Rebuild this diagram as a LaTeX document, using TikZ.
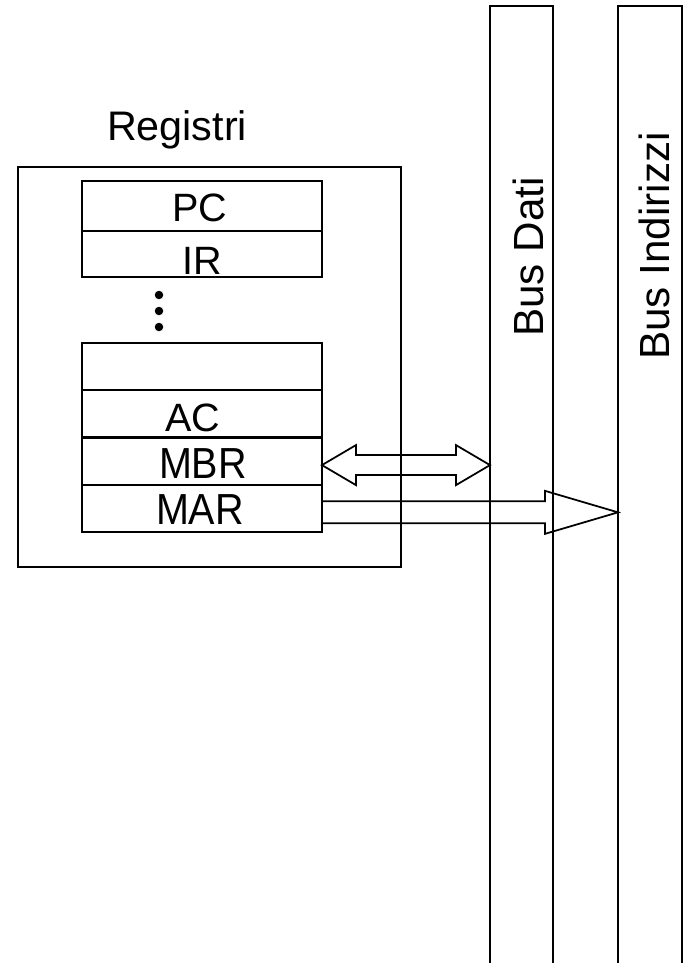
\documentclass[tikz,border=0pt]{standalone}
\usepackage{fontspec}
\setmainfont{Liberation Sans}
\usetikzlibrary{positioning, calc}

\begin{document}
\begin{tikzpicture}[
    x=0.02cm, y=-0.02cm,
    node distance=0cm,
    frame/.style={rectangle, draw, line width=1.2pt, outer sep=0pt, inner sep=0pt, minimum width=7.66cm, minimum height=8cm},
    reg/.style={rectangle, draw, line width=1.2pt, outer sep=0pt, inner sep=0pt, minimum width=4.8cm, minimum height=0.945cm},
    regtext/.style={font=\fontsize{22.5}{22}\selectfont, anchor=base, inner sep=0pt},
    dot/.style={circle, fill, inner sep=0pt, minimum size=0.17cm},
    bus/.style={rectangle, draw, line width=1pt, outer sep=0pt, inner sep=0pt, minimum width=1.26cm, minimum height=19.6cm, anchor=north west},
    bustext/.style={font=\fontsize{24}{24}\selectfont, rotate=90, inner sep=0pt},
    blockarrow/.style={draw, line width=1pt, line join=miter}
]
\useasboundingbox (0,0) rectangle (686,963);

% Register file
\node[font=\fontsize{23.5}{24}\selectfont, anchor=base, inner sep=0pt] (title) at (177,140) {Registri};
\node[frame, anchor=north west] (regs) at (18,167) {};

% Top registers
\node[reg, minimum height=1cm, anchor=north west] (pc) at (82,181) {};
\node[reg, minimum height=0.92cm, below=of pc] (ir) {};
\node[regtext] (pclbl) at ($(pc.south)+(-2,-9)$) {PC};
\node[regtext] (irlbl) at ($(ir.south)+(0,-2)$) {IR};

% Dots
\foreach \i/\yy in {1/295, 2/311, 3/327}
    \node[dot] (dot\i) at (159,\yy) {};

% Bottom registers
\node[reg, anchor=north west] (blank) at (82,343) {};
\node[reg, below=of blank] (ac) {};
\node[reg, below=of ac] (mbr) {};
\node[reg, below=of mbr] (mar) {};
\node[regtext] (aclbl) at ($(ac.south)+(-9,-6)$) {AC};
\node[regtext, yscale=1.1] (mbrlbl) at ($(mbr.south)+(1,-6)$) {MBR};
\node[regtext, yscale=1.1] (marlbl) at ($(mar.south)+(-2,-7)$) {MAR};

% Buses
\node[bus] (dati) at (490,6) {};
\node[bus, minimum width=1.28cm] (indirizzi) at (618,6) {};
\node[bustext] (datilbl) at (528,257) {Bus Dati};
\node[bustext] (indirizzilbl) at (654.5,246) {Bus Indirizzi};

% MBR <-> Bus Dati
\coordinate (dl) at ($(mbr.east)+(0,4)$);
\coordinate (dr) at (dati.west |- dl);
\draw[blockarrow] (dl) -- ($(dl)+(34,-20)$) -- ($(dl)+(34,-10)$)
    -- ($(dr)+(-34,-10)$) -- ($(dr)+(-34,-20)$) -- (dr)
    -- ($(dr)+(-34,20)$) -- ($(dr)+(-34,10)$)
    -- ($(dl)+(34,10)$) -- ($(dl)+(34,20)$) -- cycle;

% MAR -> Bus Indirizzi
\coordinate (ml) at ($(mar.east)+(0,4)$);
\coordinate (mr) at (indirizzi.west |- ml);
\draw[blockarrow] ($(ml)+(0,-11)$) -- ($(mr)+(-73,-11)$) -- ($(mr)+(-73,-21.5)$)
    -- (mr) -- ($(mr)+(-73,21.5)$) -- ($(mr)+(-73,11)$) -- ($(ml)+(0,11)$);

\end{tikzpicture}
\end{document}
